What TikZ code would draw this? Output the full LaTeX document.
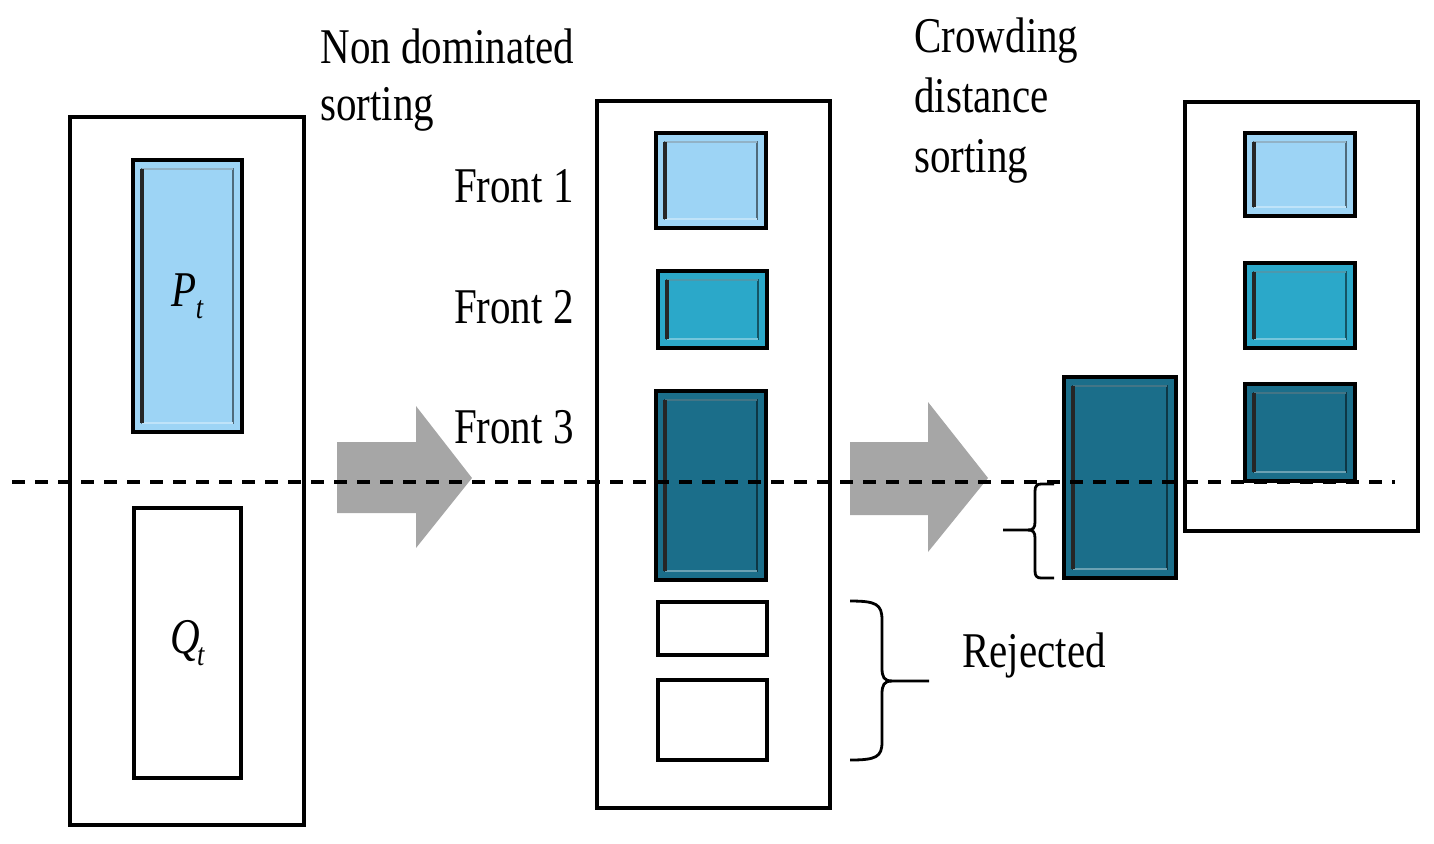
\documentclass[tikz,border=0pt]{standalone}
\usepackage{fontspec}
\setmainfont{Liberation Serif}[FakeStretch=0.82]
\definecolor{lightb}{HTML}{9DD4F5}
\definecolor{midb}{HTML}{2BA8C9}
\definecolor{darkb}{HTML}{1B6E8A}
\definecolor{arrowgray}{HTML}{A6A6A6}
\begin{document}
\begin{tikzpicture}[x=0.5pt,y=-0.5pt,
  lbl/.style={inner sep=0pt, font=\fontsize{25}{30}\selectfont},
  frame/.style={draw=black, line width=1.7pt, fill=white, inner sep=0pt},
  bevel/.style={frame, line width=2pt, fill=#1, path picture={
     \coordinate (bnw) at ([xshift=4.6pt,yshift=-4.6pt]path picture bounding box.north west);
     \coordinate (bse) at ([xshift=-4.6pt,yshift=4.6pt]path picture bounding box.south east);
     \draw[line width=1pt, #1!50!black] (bnw) rectangle (bse);
     \draw[line width=1pt, #1!60!gray] (bnw) -- (bnw -| bse);
     \draw[line width=1pt, #1!65!white] (bse) -- (bnw |- bse);
     \draw[line width=1.8pt, black!85] (bnw) -- (bnw |- bse);
  }},
  bigarrow/.style={fill=arrowgray},
  brace/.style={draw=black, line width=1.4pt},
  cut/.style={draw=black, line width=1.9pt, dash pattern=on 6.5pt off 5pt},
]
\useasboundingbox (0,0) rectangle (1434,843);

% grey arrows
\fill[bigarrow] (337,442) -- (416,442) -- (416,406) -- (472,478) -- (416,548) -- (416,513) -- (337,513) -- cycle;
\fill[bigarrow] (850,442) -- (928,442) -- (928,402) -- (988,478) -- (928,552) -- (928,515) -- (850,515) -- cycle;

% left population
\node[frame, minimum width=117pt, minimum height=354pt] (popL) at (187,471) {};
\node[bevel=lightb, minimum width=54.5pt, minimum height=136pt] (Pt) at (187.5,296) {};
\node[frame, minimum width=53.5pt, minimum height=135pt] (Qt) at (187.5,643) {};
\node[lbl] at (Pt) {\itshape P\kern-0.5pt\raisebox{-6pt}{\fontsize{16}{16}\selectfont t}};
\node[lbl] at (Qt) {\itshape Q\kern-1.5pt\raisebox{-6pt}{\fontsize{16}{16}\selectfont t}};

% middle population
\node[frame, minimum width=116.5pt, minimum height=353.5pt] (popM) at (713.5,454.5) {};
\node[bevel=lightb, minimum width=55pt, minimum height=47.5pt] (f1) at (711,180.5) {};
\node[bevel=midb, minimum width=54.5pt, minimum height=38.5pt] (f2) at (712.5,309.5) {};
\node[bevel=darkb, minimum width=55pt, minimum height=94.5pt] (f3) at (711,485.5) {};
\node[frame, minimum width=54.5pt, minimum height=26.5pt] (r1) at (712.5,628.5) {};
\node[frame, minimum width=54.5pt, minimum height=40pt] (r2) at (712.5,720) {};

% split front 3
\node[bevel=darkb, minimum width=56pt, minimum height=100.5pt] (f3b) at (1120,477.5) {};

% right population
\node[frame, minimum width=116.5pt, minimum height=214.5pt] (popR) at (1301.5,316.5) {};
\node[bevel=lightb, minimum width=55pt, minimum height=41.5pt] (g1) at (1300,174.5) {};
\node[bevel=midb, minimum width=55pt, minimum height=42.5pt] (g2) at (1300,305.5) {};
\node[bevel=darkb, minimum width=55pt, minimum height=48.5pt] (g3) at (1300,432.5) {};

% labels
\node[lbl, anchor=base west] (nd1) at (320,63) {Non dominated};
\node[lbl, anchor=base west] (nd2) at (320,120) {sorting};
\node[lbl, anchor=base west] (cd1) at (914,52) {Crowding};
\node[lbl, anchor=base west] (cd2) at (914,112) {distance};
\node[lbl, anchor=base west] (cd3) at (914,172) {sorting};
\node[lbl, anchor=base east] (lf1) at (574,202) {Front 1};
\node[lbl, anchor=base east] (lf2) at (574,323) {Front 2};
\node[lbl, anchor=base east] (lf3) at (574,443) {Front 3};
\node[lbl, anchor=base west] (rej) at (962,667) {Rejected};

% braces
\draw[brace] (850,601) .. controls (876,601) and (882,604) .. (882,620) -- (882,668)
  .. controls (882,677) and (884,681) .. (892,681) -- (929,681);
\draw[brace] (892,681) .. controls (884,681) and (882,685) .. (882,694) -- (882,742)
  .. controls (882,757) and (876,760) .. (850,760);
\draw[brace] (1054,484) -- (1041,484) .. controls (1037,484) and (1035,486) .. (1035,491) -- (1035,522)
  .. controls (1035,528) and (1033,530) .. (1028,530) -- (1003,530);
\draw[brace] (1028,530) .. controls (1033,530) and (1035,532) .. (1035,538) -- (1035,571)
  .. controls (1035,576) and (1037,578) .. (1041,578) -- (1054,578);

% cut line
\coordinate (cutL) at (12,482);
\coordinate (cutR) at (1395,482);
\draw[cut] (cutL) -- (cutR);
\end{tikzpicture}
\end{document}
